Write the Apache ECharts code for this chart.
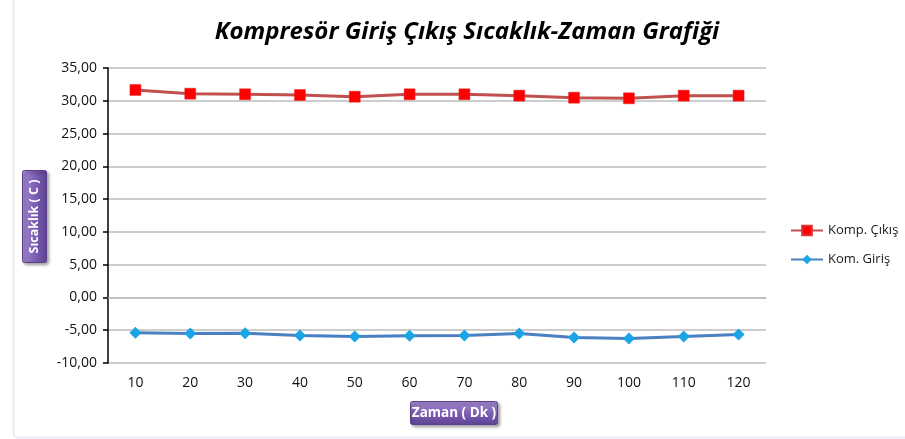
<!DOCTYPE html>
<html>
<head>
<meta charset="utf-8">
<script src="https://cdn.jsdelivr.net/npm/echarts@6/dist/echarts.min.js"></script>
<style>html,body{margin:0;padding:0;background:#fff}#c{width:905px;height:439px}</style>
</head>
<body>
<div id="c"></div>
<script>
const categories = ['10','20','30','40','50','60','70','80','90','100','110','120'];
const kompCikis = [31.65, 31.08, 30.99, 30.88, 30.62, 30.99, 30.99, 30.78, 30.47, 30.38, 30.78, 30.78];
const komGiris = [-5.4, -5.5, -5.45, -5.8, -5.95, -5.85, -5.8, -5.5, -6.1, -6.25, -5.95, -5.65];
const seriesNames = ['Komp. Çıkış', 'Kom. Giriş'];
const titleText = 'Kompresör Giriş Çıkış Sıcaklık-Zaman Grafiği';
const yName = 'Sıcaklık ( C )';
const xName = 'Zaman ( Dk )';

const FONT = 'Open Sans';
const purple = {type:'linear',x:0,y:0,x2:0,y2:1,colorStops:[{offset:0,color:'#a58bd0'},{offset:0.5,color:'#7e5fb3'},{offset:1,color:'#5f4294'}]};
const purpleH = {type:'linear',x:0,y:0,x2:1,y2:0,colorStops:[{offset:0,color:'#a58bd0'},{offset:0.5,color:'#7e5fb3'},{offset:1,color:'#5f4294'}]};

const chart = echarts.init(document.getElementById('c'));
chart.setOption({
  backgroundColor:'#fff',
  animation:false,
  title:{text:titleText,left:462,top:15,textAlign:'center',
    textStyle:{fontFamily:FONT,fontSize:24,fontWeight:'bold',fontStyle:'italic',color:'#000'}},
  grid:{left:108,right:139,top:68,bottom:76},
  legend:{orient:'vertical',left:785,top:219,itemGap:16,itemWidth:32,itemHeight:12,
    textStyle:{fontFamily:FONT,fontSize:13,color:'#1a1a1a'},
    data:seriesNames},
  xAxis:{type:'category',data:categories,boundaryGap:true,
    axisLine:{lineStyle:{color:'#bdbdbd',width:1.5}},
    axisTick:{show:false},
    axisLabel:{fontFamily:FONT,fontSize:14,color:'#111',margin:13}},
  yAxis:{type:'value',min:-10,max:35,interval:5,
    axisLine:{show:true,lineStyle:{color:'#000',width:1.5}},
    axisTick:{show:true,length:5,lineStyle:{color:'#000',width:1.5}},
    splitLine:{lineStyle:{color:'#bdbdbd',width:1.5}},
    axisLabel:{fontFamily:FONT,fontSize:14,color:'#111',margin:11,
      formatter:v=>v.toFixed(2).replace('.',',')}},
  series:[
    {name:seriesNames[0],type:'line',data:kompCikis,symbol:'rect',symbolSize:11,
      lineStyle:{color:'#c0504d',width:3},
      itemStyle:{color:'#ff0000',borderColor:'#e03030',borderWidth:0.5}},
    {name:seriesNames[1],type:'line',data:komGiris,symbol:'diamond',symbolSize:12,
      lineStyle:{color:'#4a7fc1',width:3},
      itemStyle:{color:'#1ba4e6'}}
  ],
  graphic:[
    {type:'rect',left:11,top:-5,shape:{width:900,height:440,r:4},
      style:{fill:'none',stroke:'#e1e8f2',lineWidth:1.5},silent:true,z:-1},
    {type:'group',left:22,top:170,children:[
      {type:'rect',shape:{width:24,height:92,r:2},
        style:{fill:purpleH,stroke:'#5a3f8c',lineWidth:1,shadowBlur:3,shadowOffsetX:2,shadowOffsetY:2,shadowColor:'rgba(0,0,0,0.35)'}},
      {type:'text',x:12,y:46,rotation:Math.PI/2,
        style:{text:yName,fill:'#fff',font:'bold 12.5px "Open Sans"',align:'center',verticalAlign:'middle'}}
    ]},
    {type:'group',left:410,top:401,children:[
      {type:'rect',shape:{width:87,height:23,r:2},
        style:{fill:purple,stroke:'#5a3f8c',lineWidth:1,shadowBlur:3,shadowOffsetX:2,shadowOffsetY:2,shadowColor:'rgba(0,0,0,0.35)'}},
      {type:'text',x:43.5,y:11.5,
        style:{text:xName,fill:'#fff',font:'bold 13.5px "Open Sans"',align:'center',verticalAlign:'middle'}}
    ]}
  ]
});
</script>
</body>
</html>
